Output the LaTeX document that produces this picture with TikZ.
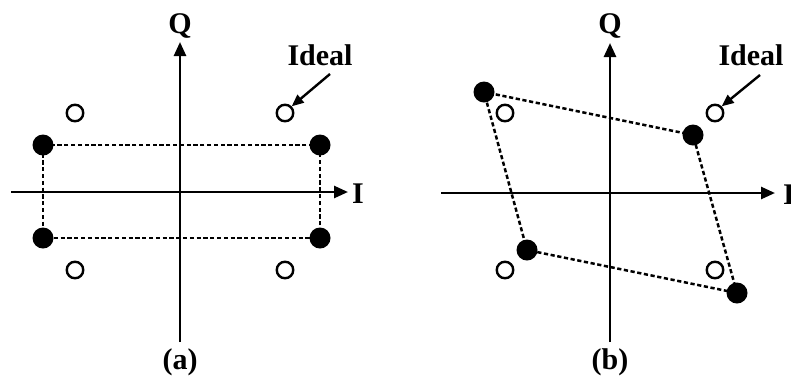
\documentclass[tikz,border=0pt]{standalone}
\usepackage{fontspec}
\setmainfont{Liberation Serif}
\usetikzlibrary{arrows.meta}
\begin{document}
\begin{tikzpicture}[x=1pt,y=-1pt,
  axis/.style={line width=2.6pt,-{Triangle[length=14pt,width=12pt]}},
  idealpt/.style={circle,draw,line width=2.4pt,fill=white,minimum size=16.5pt,inner sep=0pt},
  measpt/.style={circle,fill=black,minimum size=21pt,inner sep=0pt},
  link/.style={line width=2.5pt,dash pattern=on 4.2pt off 2.6pt},
  lbl/.style={font=\fontsize{30}{32}\selectfont\bfseries,inner sep=0pt},
  pointer/.style={line width=2.4pt,-{Triangle[length=12pt,width=10pt]}}]
\useasboundingbox (0,0) rectangle (791,376);

% ---------- (a): amplitude imbalance ----------
\coordinate (aB) at (180,342);
\coordinate (aT) at (180,42);
\coordinate (aL) at (11,192);
\coordinate (aR) at (348,192);
\draw[axis] (aB) -- (aT);
\draw[axis] (aL) -- (aR);
\node[lbl,anchor=base] (aQ) at (180,33) {Q};
\node[lbl,anchor=base west] (aI) at (352,203) {I};
\node[lbl,anchor=base] (acap) at (180,369) {(a)};

\node[idealpt] (ai1) at (285,113) {};
\node[idealpt] (ai2) at (75,113) {};
\node[idealpt] (ai3) at (75,270) {};
\node[idealpt] (ai4) at (285,270) {};

\coordinate (am1) at (320,145);
\coordinate (am2) at (43,145);
\coordinate (am3) at (43,238);
\coordinate (am4) at (320,238);
\draw[link] (am1) -- (am2) -- (am3) -- (am4) -- cycle;
\foreach \p in {am1,am2,am3,am4} \node[measpt] at (\p) {};

\node[lbl,anchor=base] (aideal) at (320,65) {Ideal};
\coordinate (aptr) at (330,74);
\draw[pointer] (aptr) -- (ai1.north east);

% ---------- (b): phase imbalance ----------
\coordinate (bB) at (610,342);
\coordinate (bT) at (610,43);
\coordinate (bL) at (441,193);
\coordinate (bR) at (775,193);
\draw[axis] (bB) -- (bT);
\draw[axis] (bL) -- (bR);
\node[lbl,anchor=base] (bQ) at (610,33) {Q};
\node[lbl,anchor=base west] (bI) at (783,204) {I};
\node[lbl,anchor=base] (bcap) at (610,369) {(b)};

\node[idealpt] (bi1) at (715,113) {};
\node[idealpt] (bi2) at (505,113) {};
\node[idealpt] (bi3) at (505,270) {};
\node[idealpt] (bi4) at (715,270) {};

\coordinate (bm1) at (693,135);
\coordinate (bm2) at (484,92);
\coordinate (bm3) at (527,250);
\coordinate (bm4) at (737,293);
\draw[link] (bm1) -- (bm2) -- (bm3) -- (bm4) -- cycle;
\foreach \p in {bm1,bm2,bm3,bm4} \node[measpt] at (\p) {};

\node[lbl,anchor=base] (bideal) at (751,65) {Ideal};
\coordinate (bptr) at (760,75);
\draw[pointer] (bptr) -- (bi1.north east);
\end{tikzpicture}
\end{document}
